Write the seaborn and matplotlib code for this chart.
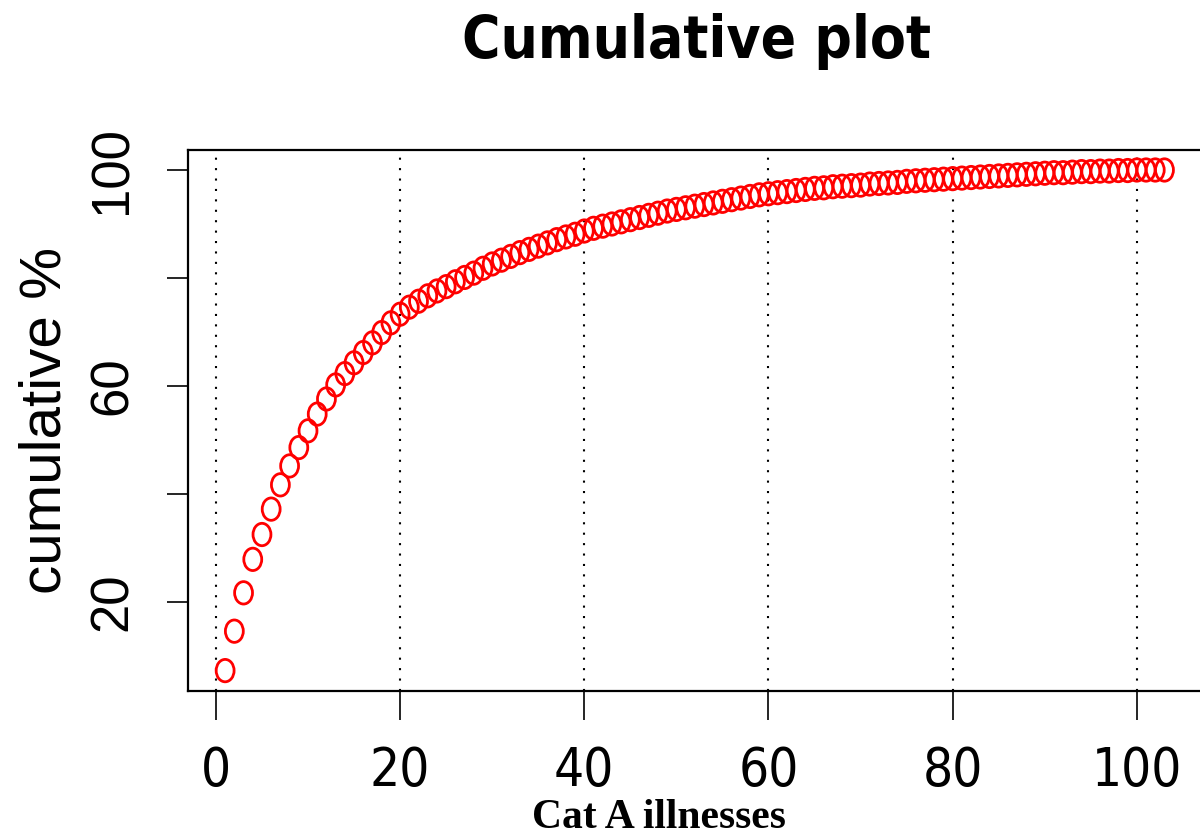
import matplotlib
matplotlib.use("Agg")
import matplotlib.pyplot as plt
from matplotlib import font_manager
from matplotlib.path import Path
from matplotlib.transforms import Affine2D
import numpy as np
import pandas as pd
import seaborn as sns

# cumulative share (%) of Cat A illnesses, one value per ranked illness
cumulative_pct = [
    7.3, 14.6, 21.7, 27.9, 32.5, 37.2, 41.7, 45.2, 48.6, 51.7,
    54.8, 57.6, 60.2, 62.3, 64.3, 66.2, 68.0, 69.9, 71.7, 73.3,
    74.6, 75.7, 76.7, 77.6, 78.4, 79.3, 80.1, 80.9, 81.8, 82.6,
    83.3, 84.0, 84.7, 85.3, 85.9, 86.5, 87.1, 87.6, 88.1, 88.7,
    89.2, 89.6, 90.0, 90.4, 90.8, 91.2, 91.6, 92.0, 92.4, 92.7,
    93.0, 93.3, 93.6, 93.9, 94.2, 94.5, 94.8, 95.1, 95.4, 95.6,
    95.8, 96.0, 96.2, 96.4, 96.6, 96.7, 96.9, 97.0, 97.1, 97.2,
    97.4, 97.5, 97.6, 97.7, 97.9, 98.0, 98.1, 98.2, 98.3, 98.4,
    98.5, 98.6, 98.7, 98.8, 98.9, 99.0, 99.1, 99.2, 99.3, 99.4,
    99.5, 99.5, 99.6, 99.7, 99.7, 99.8, 99.8, 99.9, 99.9, 100.0,
    100.0, 100.0, 100.0,
]
illness_rank = list(range(1, len(cumulative_pct) + 1))

x_ticks = [0, 20, 40, 60, 80, 100]
x_tick_labels = ["0", "20", "40", "60", "80", "100"]
y_ticks = [20, 40, 60, 80, 100]
y_tick_labels = ["20", "", "60", "", "100"]

df = pd.DataFrame({"rank": illness_rank, "cum": cumulative_pct})

sns.set_theme(style="white")
installed = {f.name for f in font_manager.fontManager.ttflist}
narrow = "Liberation Sans Narrow" if "Liberation Sans Narrow" in installed else "DejaVu Sans"
plt.rcParams["font.family"] = ["Liberation Sans", "DejaVu Sans"]
plt.rcParams.update({"text.color": "black", "axes.labelcolor": "black",
                     "xtick.color": "black", "ytick.color": "black"})

fig = plt.figure(figsize=(12, 8.39), dpi=100)
ax = fig.add_axes([0.1563, 0.1769, 0.8454, 0.6443])

# slightly tall open circle
ring = Affine2D().scale(0.8, 1.0).transform_path(Path.unit_circle())

sns.scatterplot(data=df, x="rank", y="cum", ax=ax, marker=ring, s=260,
                facecolor="none", edgecolor="red", linewidth=2.0, zorder=3)

ax.set_xlim(-3.08, 107.08)
ax.set_ylim(3.6, 103.7)

for xv in x_ticks:
    ax.axvline(xv, color="black", linestyle=(0, (1, 4)), linewidth=1.5, zorder=1)

for side in ["left", "right", "top", "bottom"]:
    ax.spines[side].set_visible(True)
    ax.spines[side].set_color("black")
    ax.spines[side].set_linewidth(1.6)

ax.set_xticks(x_ticks)
ax.set_xticklabels(x_tick_labels, fontfamily=narrow, fontstretch="condensed",
                   fontsize=38)
ax.set_yticks(y_ticks)
ax.set_yticklabels(y_tick_labels, fontsize=38, rotation=90, va="center")
ax.tick_params(axis="x", direction="out", length=21, width=1.2,
               pad=18, bottom=True)
ax.tick_params(axis="y", direction="out", length=15, width=1.2,
               pad=21, left=True)

ax.set_xlabel("Cat A illnesses", fontfamily=["Liberation Serif", "DejaVu Serif"],
              fontweight="bold", fontsize=30, va="center")
ax.xaxis.set_label_coords(0.4647, -0.2357)
ax.set_ylabel("cumulative %", fontsize=42, va="center")
ax.yaxis.set_label_coords(-0.1405, 0.5)

fig.text(697 / 1200, 1 - 42 / 839, "Cumulative plot", fontfamily=narrow,
         fontstretch="condensed", fontweight="bold", fontsize=42,
         ha="center", va="center")

fig.savefig("out.png", dpi=100, facecolor="white")
